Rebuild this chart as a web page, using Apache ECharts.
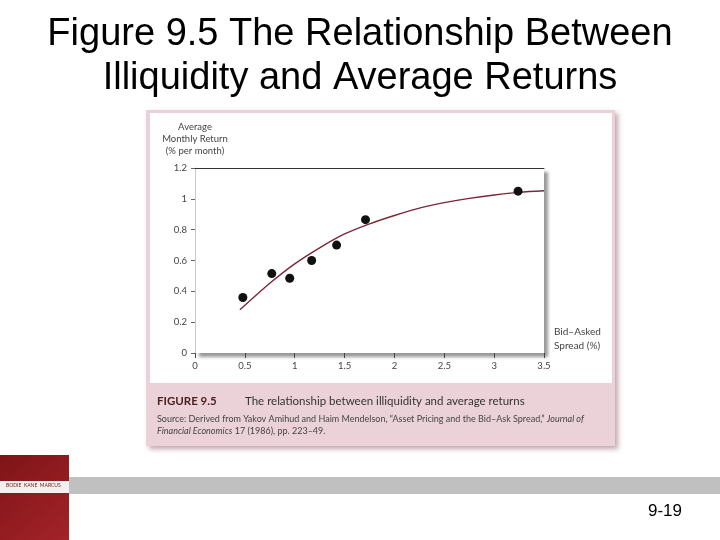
<!DOCTYPE html>
<html>
<head>
<meta charset="utf-8">
<script src="https://cdn.jsdelivr.net/npm/echarts@6/dist/echarts.min.js"></script>
<style>
html,body{margin:0;padding:0;background:#fff;}
#chart{width:720px;height:540px;}
</style>
</head>
<body>
<div id="chart"></div>
<script>
// Observed portfolio points: bid-asked spread (%) vs average monthly return (% per month)
const spreadPoints = [0.48, 0.77, 0.95, 1.17, 1.42, 1.71, 3.24];
const returnPoints = [0.36, 0.515, 0.485, 0.60, 0.70, 0.865, 1.05];
// Fitted curve
const curveSpread = [0.45, 0.75, 1.0, 1.25, 1.5, 1.75, 2.0, 2.25, 2.5, 2.75, 3.0, 3.25, 3.5];
const curveReturn = [0.28, 0.452, 0.578, 0.682, 0.772, 0.838, 0.892, 0.94, 0.975, 1.003, 1.025, 1.042, 1.052];
const xTicks = [0, 0.5, 1, 1.5, 2, 2.5, 3, 3.5];
const yTicks = [0, 0.2, 0.4, 0.6, 0.8, 1, 1.2];

const slideTitle = 'Figure 9.5 The Relationship Between\nIlliquidity and Average Returns';
const yName = 'Average\nMonthly Return\n(% per month)';
const xName = 'Bid–Asked\nSpread (%)';
const figLabel = 'FIGURE 9.5';
const figCaption = 'The relationship between illiquidity and average returns';
const sourceLine1 = 'Source: Derived from Yakov Amihud and Haim Mendelson, \u201cAsset Pricing and the Bid\u2013Ask Spread,\u201d ';
const sourceJournal1 = 'Journal of';
const sourceJournal2 = 'Financial Economics';
const sourceLine2 = ' 17 (1986), pp. 223\u201349.';
const pageNo = '9-19';

const chart = echarts.init(document.getElementById('chart'), null, {renderer: 'canvas'});
const font = 'Lato, "Open Sans", "Noto Sans", sans-serif';

const option = {
  backgroundColor: '#ffffff',
  animation: false,
  title: {
    text: slideTitle,
    left: 'center',
    top: 8,
    textStyle: {fontFamily: '"Liberation Sans", Arial, sans-serif', fontSize: 38, fontWeight: 'normal', color: '#000', lineHeight: 44}
  },
  grid: {
    left: 195, right: 176, top: 168, bottom: 187,
    show: true, backgroundColor: '#fff', borderWidth: 0,
    shadowColor: 'rgba(0,0,0,0.4)', shadowBlur: 3, shadowOffsetX: 4, shadowOffsetY: 4
  },
  xAxis: [{
    type: 'value', min: 0, max: 3.5, interval: 0.5,
    axisLine: {show: false},
    axisTick: {show: true, length: 5, lineStyle: {color: '#444'}, inside: false},
    axisLabel: {color: '#444', fontSize: 9.5, fontFamily: font, margin: 8,
      customValues: xTicks, formatter: v => String(v)},
    splitLine: {show: false},
    name: xName, nameLocation: 'end', nameGap: 10,
    nameTextStyle: {color: '#444', fontSize: 10, fontFamily: font, align: 'left', verticalAlign: 'bottom', lineHeight: 14, padding: [0, 0, 0, 0]}
  }, {
    type: 'value', position: 'top', min: 0, max: 3.5,
    axisLine: {show: true, onZero: false, lineStyle: {color: '#333', width: 1}},
    axisTick: {show: false}, axisLabel: {show: false}, splitLine: {show: false}
  }],
  yAxis: {
    type: 'value', min: 0, max: 1.2, interval: 0.2,
    axisLine: {show: true, lineStyle: {color: '#c8c8c8'}},
    axisTick: {show: true, length: 4, lineStyle: {color: '#666'}},
    axisLabel: {color: '#444', fontSize: 9.5, fontFamily: font, margin: 8,
      customValues: yTicks, formatter: v => String(Math.round(v * 10) / 10)},
    splitLine: {show: false},
    name: yName, nameLocation: 'end', nameGap: 11,
    nameTextStyle: {color: '#444', fontSize: 9.5, fontFamily: font, align: 'center', lineHeight: 12}
  },
  series: [{
    type: 'line', xAxisIndex: 0, smooth: 0.3, symbol: 'none',
    data: curveSpread.map((x, i) => [x, curveReturn[i]]),
    lineStyle: {color: '#7a2838', width: 1.4}, z: 3
  }, {
    type: 'scatter', xAxisIndex: 0, symbol: 'circle', symbolSize: 9,
    data: spreadPoints.map((x, i) => [x, returnPoints[i]]),
    itemStyle: {color: '#111', opacity: 1}, z: 4
  }],
  graphic: [
    // figure panel
    {type: 'rect', z: -10, shape: {x: 146, y: 110, width: 469, height: 336},
      style: {fill: '#ebd2d8', shadowColor: 'rgba(120,60,70,0.45)', shadowBlur: 5, shadowOffsetX: 3, shadowOffsetY: 3}},
    {type: 'rect', z: -9, shape: {x: 150, y: 113, width: 462, height: 270}, style: {fill: '#ffffff'}},
    {type: 'text', z: 5, left: 157, top: 395,
      style: {text: figLabel, fill: '#4a1f24', font: 'bold 11.5px ' + font, letterSpacing: 3}},
    {type: 'text', z: 5, left: 245, top: 395,
      style: {text: figCaption, fill: '#333', font: '11.5px ' + font}},
    {type: 'text', z: 5, left: 157, top: 415,
      style: {text: '{n|' + sourceLine1 + '}{i|' + sourceJournal1 + '}', fill: '#444', font: '9px ' + font,
        rich: {n: {fontSize: 9, fontFamily: font, fill: '#444'}, i: {fontSize: 9, fontFamily: font, fontStyle: 'italic', fill: '#444'}}}},
    {type: 'text', z: 5, left: 157, top: 427,
      style: {text: '{i|' + sourceJournal2 + '}{n|' + sourceLine2 + '}', fill: '#444', font: '9px ' + font,
        rich: {n: {fontSize: 9, fontFamily: font, fill: '#444'}, i: {fontSize: 9, fontFamily: font, fontStyle: 'italic', fill: '#444'}}}},
    // slide footer band
    {type: 'rect', z: -10, shape: {x: 69, y: 477, width: 651, height: 17}, style: {fill: '#c0c0c0'}},
    // book cover
    {type: 'rect', z: -8, shape: {x: 0, y: 455, width: 69, height: 85},
      style: {fill: new echarts.graphic.LinearGradient(0, 0, 1, 1, [{offset: 0, color: '#7e1416'}, {offset: 1, color: '#a3232a'}])}},
    {type: 'rect', z: -7, shape: {x: 0, y: 481, width: 69, height: 12}, style: {fill: '#f4f0f0'}},
    {type: 'text', z: 5, left: 6, top: 483, style: {text: 'BODIE  KANE  MARCUS', fill: '#6a2020', font: '5px ' + font}},
    {type: 'text', z: 5, left: 648, top: 503, style: {text: pageNo, fill: '#000', font: '17px "Liberation Sans", Arial, sans-serif'}}
  ]
};
chart.setOption(option);
</script>
</body>
</html>
